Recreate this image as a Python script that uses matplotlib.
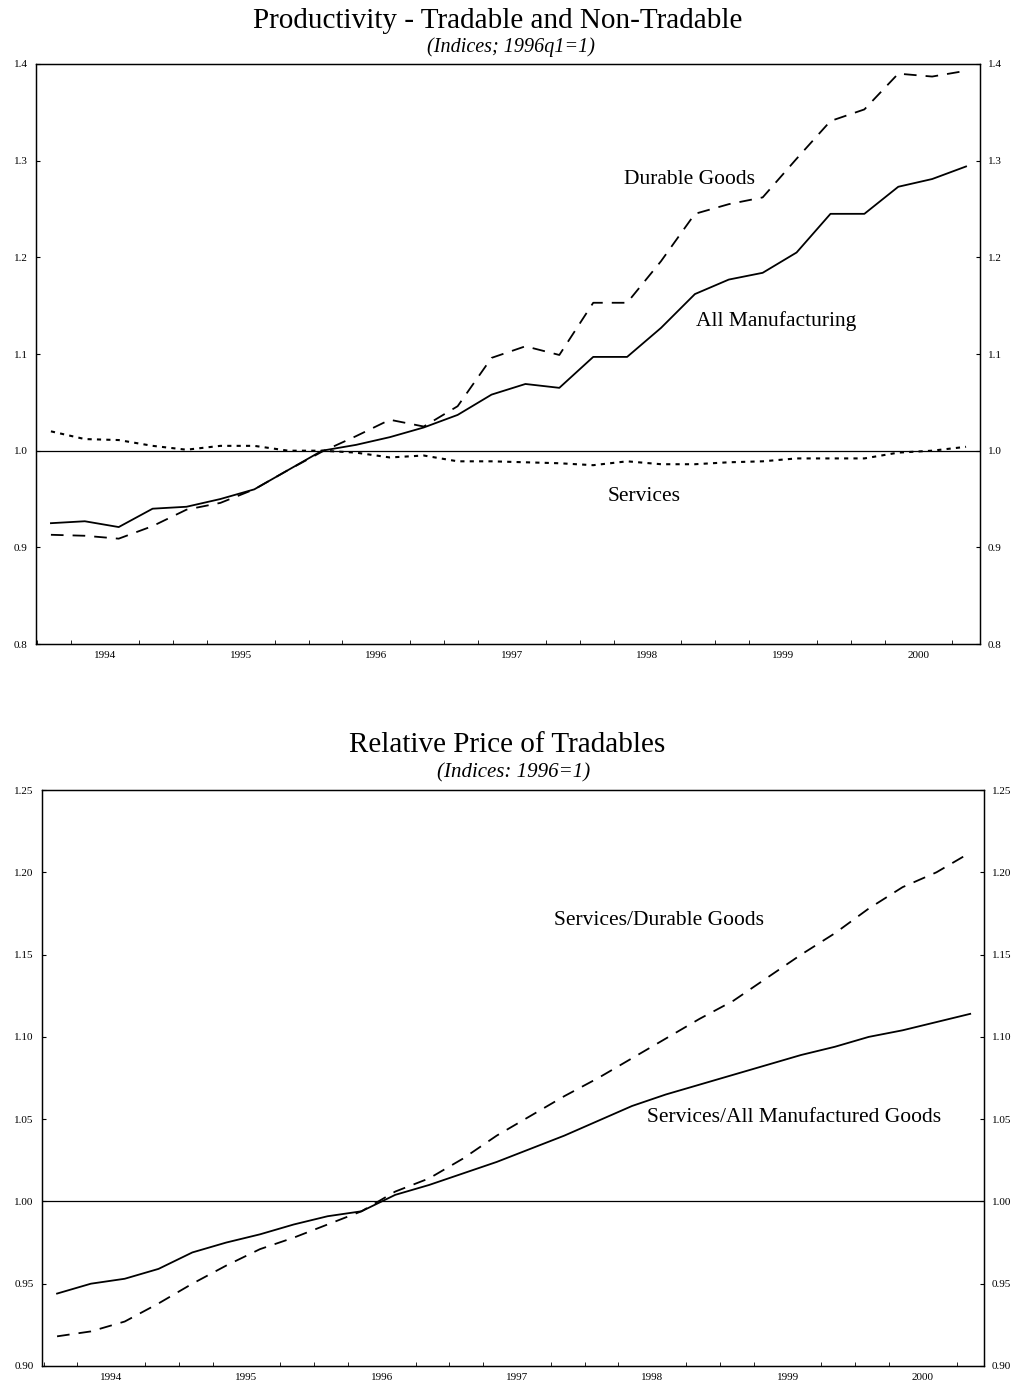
import numpy as np
import matplotlib.pyplot as plt

plt.rcParams['font.family'] = ['Liberation Serif', 'DejaVu Serif']

# quarters 1994q1 .. 2000q4
quarters = [f"{y}q{q}" for y in range(1994, 2001) for q in range(1, 5)]
years = [1994, 1995, 1996, 1997, 1998, 1999, 2000]

# productivity (1996q1 = 1)
all_manuf = [0.925, 0.927, 0.921, 0.940, 0.942, 0.950, 0.960, 0.980,
             1.000, 1.006, 1.014, 1.024, 1.037, 1.058, 1.069, 1.065,
             1.097, 1.097, 1.127, 1.162, 1.177, 1.184, 1.205, 1.245,
             1.245, 1.273, 1.281, 1.294]
durable = [0.913, 0.912, 0.909, 0.922, 0.939, 0.946, 0.960, 0.980,
           0.999, 1.015, 1.032, 1.025, 1.046, 1.096, 1.108, 1.099,
           1.153, 1.153, 1.196, 1.245, 1.255, 1.262, 1.302, 1.341,
           1.353, 1.390, 1.387, 1.393]
services = [1.020, 1.012, 1.011, 1.005, 1.001, 1.005, 1.005, 1.000,
            1.000, 0.998, 0.993, 0.995, 0.989, 0.989, 0.988, 0.987,
            0.985, 0.989, 0.986, 0.986, 0.988, 0.989, 0.992, 0.992,
            0.992, 0.998, 1.000, 1.004]

# relative prices (1996 = 1)
serv_allman = [0.944, 0.950, 0.953, 0.959, 0.969, 0.975, 0.980, 0.986,
               0.991, 0.994, 1.004, 1.010, 1.017, 1.024, 1.032, 1.040,
               1.049, 1.058, 1.065, 1.071, 1.077, 1.083, 1.089, 1.094,
               1.100, 1.104, 1.109, 1.114]
serv_durable = [0.918, 0.921, 0.927, 0.938, 0.950, 0.961, 0.971, 0.978,
                0.986, 0.994, 1.006, 1.014, 1.026, 1.040, 1.052, 1.064,
                1.075, 1.087, 1.099, 1.111, 1.122, 1.136, 1.150, 1.163,
                1.178, 1.191, 1.200, 1.212]

t = np.array([int(s[:4]) + (int(s[-1]) - 1) / 4 for s in quarters])
xlim = (1993.89, 2000.85)

fig = plt.figure(figsize=(10.29, 13.91), dpi=100)


def setup(ax, ylim, yticks, fmt):
    ax.set_xlim(*xlim)
    ax.set_ylim(*ylim)
    ax.set_yticks(yticks)
    ax.set_yticklabels([fmt.format(v) for v in yticks], fontsize=8)
    ax.set_xticks([y + 0.4 for y in years])
    ax.set_xticklabels([str(y) for y in years], fontsize=8)
    ax.set_xticks([y + 0.15 + 0.25 * i for y in range(1993, 2001) for i in range(4)
                   if xlim[0] < y + 0.15 + 0.25 * i < xlim[1]], minor=True)
    ax.tick_params(axis='x', which='major', length=0, pad=5)
    ax.tick_params(axis='x', which='minor', length=3, direction='in')
    ax.tick_params(axis='y', length=3, direction='in', pad=6)
    for s in ax.spines.values():
        s.set_linewidth(0.9)
    ax.axhline(1.0, color='black', lw=0.9)
    ax2 = ax.twinx()
    ax2.set_ylim(*ylim)
    ax2.set_yticks(yticks)
    ax2.set_yticklabels([fmt.format(v) for v in yticks], fontsize=8)
    ax2.tick_params(axis='y', length=3, direction='in', pad=6)
    for s in ax2.spines.values():
        s.set_linewidth(0.9)


# top panel
ax1 = fig.add_axes([0.035, 0.537, 0.917, 0.417])
setup(ax1, (0.8, 1.4), [0.8, 0.9, 1.0, 1.1, 1.2, 1.3, 1.4], "{:.1f}")
ax1.plot(t, all_manuf, color='black', lw=1.3)
ax1.plot(t, durable, color='black', lw=1.3, dashes=(7, 5))
ax1.plot(t, services, color='black', lw=1.5, dashes=(2, 2.5))
ax1.text(1994 + 18.85 / 4, 1.281, "Durable Goods", fontsize=15.5, ha='center', va='center')
ax1.text(1994 + 21.4 / 4, 1.134, "All Manufacturing", fontsize=15.5, ha='center', va='center')
ax1.text(1994 + 17.5 / 4, 0.953, "Services", fontsize=15.5, ha='center', va='center')
fig.text(0.4835, 0.985, "Productivity - Tradable and Non-Tradable", fontsize=21,
         ha='center', va='center')
fig.text(0.497, 0.966, "(Indices; 1996q1=1)", fontsize=14.5, style='italic',
         ha='center', va='center')

# bottom panel
ax3 = fig.add_axes([0.041, 0.018, 0.915, 0.414])
setup(ax3, (0.90, 1.25), [0.90, 0.95, 1.00, 1.05, 1.10, 1.15, 1.20, 1.25], "{:.2f}")
ax3.plot(t, serv_allman, color='black', lw=1.3)
ax3.plot(t, serv_durable, color='black', lw=1.3, dashes=(7, 5))
ax3.text(1994 + 17.8 / 4, 1.171, "Services/Durable Goods", fontsize=15.5, ha='center', va='center')
ax3.text(1994 + 21.8 / 4, 1.051, "Services/All Manufactured Goods", fontsize=15.5,
         ha='center', va='center')
fig.text(0.493, 0.4645, "Relative Price of Tradables", fontsize=21,
         ha='center', va='center')
fig.text(0.4995, 0.4445, "(Indices: 1996=1)", fontsize=15, style='italic',
         ha='center', va='center')

fig.savefig("out.png", dpi=100)
